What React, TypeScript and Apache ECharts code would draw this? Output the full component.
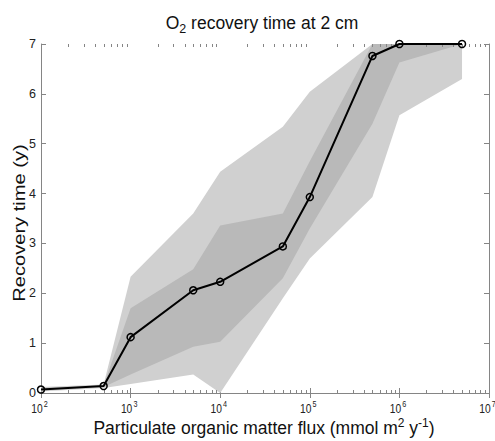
import React, { useEffect, useRef } from "react";
import * as echarts from "echarts";

const fluxValues = [100, 500, 1000, 5000, 10000, 50000, 100000, 500000, 1000000, 5000000];
const medianTime = [0.07, 0.14, 1.12, 2.06, 2.23, 2.94, 3.93, 6.76, 7.0, 7.0];
const outerUpper = [0.12, 0.17, 2.33, 3.6, 4.44, 5.34, 6.04, 7.0, 7.0, 7.0];
const outerLower = [0.03, 0.1, 0.18, 0.37, 0.0, 1.9, 2.7, 3.93, 5.57, 6.3];
const innerUpper = [0.1, 0.15, 1.7, 2.48, 3.36, 3.6, 4.65, 7.0, 7.0, 7.0];
const innerLower = [0.05, 0.12, 0.37, 0.93, 1.03, 2.3, 3.3, 5.4, 6.63, 7.0];
const xTickValues = [100, 1000, 10000, 100000, 1000000, 10000000];
const xTickExponents = ["2", "3", "4", "5", "6", "7"];
const xMin = 100;
const xMax = 10000000;
const yMin = 0;
const yMax = 7;
const minorTickValues: number[] = [];
for (let e = 2; e < 7; e++) {
  for (let m = 2; m <= 9; m++) minorTickValues.push(m * Math.pow(10, e));
}

const AXIS_GRAY = "#858585";
const LABEL = "#222";
const FONT = "Liberation Sans";

export default function App() {
  const ref = useRef<HTMLDivElement>(null);
  useEffect(() => {
    document.body.style.margin = "0";
    const chart = echarts.init(ref.current!, null, { renderer: "svg" });
    const bandItem = (upper: number[], lower: number[], fill: string) => ({
      type: "custom",
      xAxisIndex: 0,
      yAxisIndex: 0,
      silent: true,
      z: 1,
      data: [[fluxValues[0], 0]],
      renderItem: (_p: any, api: any) => {
        const pts: number[][] = [];
        for (let i = 0; i < fluxValues.length; i++) pts.push(api.coord([fluxValues[i], upper[i]]));
        for (let i = fluxValues.length - 1; i >= 0; i--) pts.push(api.coord([fluxValues[i], lower[i]]));
        return { type: "polygon", shape: { points: pts }, style: { fill, stroke: null } };
      },
    });
    const option: any = {
      animation: false,
      backgroundColor: "#fff",
      grid: { left: 41, right: 6, top: 44, bottom: 48, containLabel: false },
      xAxis: [
        {
          type: "log",
          logBase: 10,
          min: xMin,
          max: xMax,
          position: "bottom",
          axisLine: { show: true, lineStyle: { color: AXIS_GRAY, width: 1 } },
          axisTick: { show: true, inside: true, length: 5, lineStyle: { color: AXIS_GRAY } },
          splitLine: { show: false },
          axisLabel: { show: false },
        },
        {
          type: "log",
          logBase: 10,
          min: xMin,
          max: xMax,
          position: "top",
          axisLine: { show: true, lineStyle: { color: AXIS_GRAY, width: 1 } },
          axisTick: { show: true, inside: true, length: 5, lineStyle: { color: AXIS_GRAY } },
          splitLine: { show: false },
          axisLabel: { show: false },
        },
      ],
      yAxis: [
        {
          type: "value",
          min: yMin,
          max: yMax,
          interval: 1,
          position: "left",
          axisLine: { show: true, lineStyle: { color: AXIS_GRAY, width: 1 } },
          axisTick: { show: true, inside: true, length: 5, lineStyle: { color: AXIS_GRAY } },
          splitLine: { show: false },
          axisLabel: { show: true, margin: 5, color: LABEL, fontFamily: FONT, fontSize: 12.5 },
        },
        {
          type: "value",
          min: yMin,
          max: yMax,
          interval: 1,
          position: "right",
          axisLine: { show: true, lineStyle: { color: AXIS_GRAY, width: 1 } },
          axisTick: { show: true, inside: true, length: 5, lineStyle: { color: AXIS_GRAY } },
          splitLine: { show: false },
          axisLabel: { show: false },
        },
      ],
      graphic: [
        {
          type: "text",
          x: 262,
          y: 23,
          style: {
            text: "{m|O}{sub|2}{m| recovery time at 2 cm}",
            fill: "#111",
            align: "center",
            verticalAlign: "middle",
            rich: {
              m: { fontSize: 17.5, lineHeight: 24, verticalAlign: "middle", fontFamily: FONT, fill: "#111" },
              sub: { fontSize: 12.5, lineHeight: 9, verticalAlign: "bottom", fontFamily: FONT, fill: "#111" },
            },
          },
        },
        {
          type: "text",
          x: 264,
          y: 428,
          style: {
            text: "{m|Particulate organic matter flux (mmol m}{sup|2}{m| y}{sup|-1}{m|)}",
            fill: "#111",
            align: "center",
            verticalAlign: "middle",
            rich: {
              m: { fontSize: 17.5, lineHeight: 22, verticalAlign: "middle", fontFamily: FONT, fill: "#111" },
              sup: { fontSize: 12, lineHeight: 10, verticalAlign: "top", fontFamily: FONT, fill: "#111" },
            },
          },
        },
        {
          type: "text",
          x: 19,
          y: 223,
          rotation: Math.PI / 2,
          scaleX: 1.22,
          scaleY: 1,
          style: {
            text: "Recovery time (y)",
            fontFamily: FONT,
            fontSize: 16.5,
            fill: "#111",
            align: "center",
            verticalAlign: "middle",
          },
        },
      ],
      series: [
        bandItem(outerUpper, outerLower, "#d0d0d0"),
        bandItem(innerUpper, innerLower, "#b9b9b9"),
        {
          type: "custom",
          xAxisIndex: 0,
          yAxisIndex: 0,
          silent: true,
          z: 5,
          data: minorTickValues.map((v) => [v, 0]),
          renderItem: (_p: any, api: any) => {
            const v = api.value(0);
            const b = api.coord([v, yMin]);
            const t = api.coord([v, yMax]);
            const x = Math.round(b[0]) + 0.5;
            return {
              type: "group",
              children: [
                { type: "line", shape: { x1: x, y1: b[1], x2: x, y2: b[1] - 3 }, style: { stroke: AXIS_GRAY, lineWidth: 1 } },
                { type: "line", shape: { x1: x, y1: t[1], x2: x, y2: t[1] + 3 }, style: { stroke: AXIS_GRAY, lineWidth: 1 } },
              ],
            };
          },
        },
        {
          type: "custom",
          xAxisIndex: 0,
          yAxisIndex: 0,
          silent: true,
          clip: false,
          z: 5,
          data: xTickValues.map((v) => [v, 0]),
          renderItem: (p: any, api: any) => {
            const v = api.value(0);
            const b = api.coord([v, yMin]);
            const exp = xTickExponents[p.dataIndex];
            return {
              type: "group",
              children: [
                {
                  type: "text",
                  x: b[0] - 4,
                  y: b[1] + 15.5,
                  scaleX: 0.82,
                  style: {
                    text: "10",
                    font: "12.5px 'Liberation Sans'",
                    fill: LABEL,
                    align: "center",
                    verticalAlign: "middle",
                  },
                },
                {
                  type: "text",
                  x: b[0] + 4.8,
                  y: b[1] + 11.5,
                  scaleX: 0.85,
                  style: {
                    text: exp,
                    font: "8.5px 'Liberation Sans'",
                    fill: LABEL,
                    align: "center",
                    verticalAlign: "middle",
                  },
                },
              ],
            };
          },
        },
        {
          type: "line",
          xAxisIndex: 0,
          yAxisIndex: 0,
          z: 10,
          data: fluxValues.map((x, i) => [x, medianTime[i]]),
          symbol: "circle",
          symbolSize: 7,
          showAllSymbol: true,
          clip: false,
          lineStyle: { color: "#000", width: 2 },
          itemStyle: { color: "rgba(0,0,0,0)", borderColor: "#000", borderWidth: 1.5 },
        },
      ],
    };
    chart.setOption(option);
    return () => chart.dispose();
  }, []);
  return <div ref={ref} style={{ position: "absolute", left: 0, top: 0, width: 495, height: 441 }} />;
}
